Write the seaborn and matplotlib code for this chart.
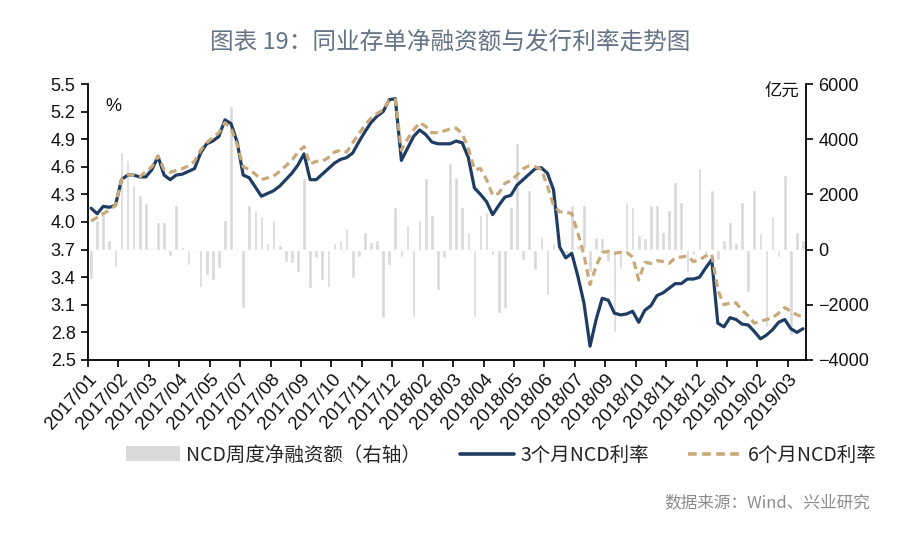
import numpy as np
import pandas as pd
import matplotlib
matplotlib.use("Agg")
import matplotlib.pyplot as plt
import seaborn as sns
from matplotlib.patches import Patch
from matplotlib.lines import Line2D

# ---------------- data (weekly) ----------------
net_financing = [
    -1050, 1090, 1380, 350, -620, 3550, 3250, 2340, 1980, 1680,
    50, 1010, 1010, -250, 1620, 80, -560, -80, -1340, -920,
    -1100, -680, 1090, 5200, 40, -2130, 1620, 1440, 1200, 230,
    1070, 170, -440, -500, -800, 2580, -1400, -320, -1100, -1340,
    230, 350, 770, -1040, -260, 650, 290, 350, -2490, -560,
    1560, -260, 890, -2430, 1070, 2580, 1250, -1460, -320, 3120,
    2640, 1560, 650, -2430, 1250, 1380, -200, -2300, -2130, 1560,
    3880, -380, 2160, -740, 470, -1640, 230, 100, -150, 1620,
    150, 1620, -800, 470, 410, -400, -2970, -680, 1680, 1560,
    530, 410, 1620, 1620, 650, 1440, 2460, 1740, -800, -200,
    2940, -180, 2160, -380, 350, 1010, 230, 1740, -1530, 2160,
    590, -2790, 1200, -260, 2700, -3090, 650, 350,
]

rate_3m = [
    4.15, 4.09, 4.17, 4.16, 4.18, 4.46, 4.51, 4.51, 4.49, 4.49,
    4.57, 4.71, 4.51, 4.46, 4.51, 4.52, 4.55, 4.58, 4.75, 4.85,
    4.88, 4.93, 5.11, 5.07, 4.87, 4.51, 4.48, 4.38, 4.28, 4.31,
    4.34, 4.39, 4.46, 4.53, 4.62, 4.74, 4.46, 4.46, 4.52, 4.58,
    4.64, 4.68, 4.70, 4.75, 4.87, 4.98, 5.08, 5.15, 5.20, 5.33,
    5.34, 4.67, 4.80, 4.93, 5.00, 4.95, 4.87, 4.85, 4.85, 4.85,
    4.88, 4.86, 4.70, 4.37, 4.30, 4.22, 4.08, 4.18, 4.27, 4.29,
    4.40, 4.46, 4.52, 4.58, 4.59, 4.53, 4.35, 3.73, 3.61, 3.66,
    3.41, 3.12, 2.65, 2.94, 3.17, 3.15, 3.01, 2.99, 3.00, 3.03,
    2.91, 3.04, 3.09, 3.20, 3.23, 3.28, 3.33, 3.33, 3.38, 3.38,
    3.40, 3.50, 3.59, 2.90, 2.86, 2.96, 2.94, 2.89, 2.88, 2.81,
    2.73, 2.77, 2.83, 2.91, 2.94, 2.84, 2.80, 2.84,
]

rate_6m = [
    4.01, 4.05, 4.09, 4.13, 4.18, 4.46, 4.51, 4.51, 4.49, 4.55,
    4.60, 4.72, 4.57, 4.54, 4.56, 4.58, 4.61, 4.66, 4.78, 4.86,
    4.92, 4.97, 5.08, 5.02, 4.84, 4.60, 4.57, 4.52, 4.46, 4.48,
    4.50, 4.55, 4.61, 4.67, 4.76, 4.82, 4.63, 4.66, 4.66, 4.70,
    4.76, 4.78, 4.76, 4.86, 4.96, 5.05, 5.13, 5.18, 5.22, 5.32,
    5.33, 4.78, 4.90, 5.00, 5.08, 5.04, 4.97, 4.97, 4.99, 5.01,
    5.02, 4.96, 4.80, 4.57, 4.58, 4.46, 4.29, 4.31, 4.42, 4.45,
    4.51, 4.58, 4.61, 4.60, 4.57, 4.39, 4.18, 4.11, 4.11, 4.09,
    3.88, 3.64, 3.32, 3.52, 3.67, 3.68, 3.66, 3.67, 3.67, 3.62,
    3.37, 3.56, 3.55, 3.58, 3.57, 3.55, 3.61, 3.62, 3.63, 3.57,
    3.59, 3.63, 3.65, 3.26, 3.10, 3.12, 3.12, 3.04, 2.98, 2.90,
    2.92, 2.94, 2.96, 3.01, 3.07, 3.03, 2.99, 2.97,
]

tick_labels = [
    "2017/01", "2017/02", "2017/03", "2017/04", "2017/05", "2017/07",
    "2017/08", "2017/09", "2017/10", "2017/11", "2017/12", "2018/02",
    "2018/03", "2018/04", "2018/05", "2018/06", "2018/07", "2018/09",
    "2018/10", "2018/11", "2018/12", "2019/01", "2019/02", "2019/03",
]

left_ticks = [2.5, 2.8, 3.1, 3.4, 3.7, 4.0, 4.3, 4.6, 4.9, 5.2, 5.5]
right_ticks = [-4000, -2000, 0, 2000, 4000, 6000]

week = list(range(len(net_financing)))
df = pd.DataFrame({"week": week, "net": net_financing,
                   "r3m": rate_3m, "r6m": rate_6m})

# ---------------- style ----------------
sns.set_theme(style="white")
CJK = ["Noto Sans CJK SC", "DejaVu Sans"]
plt.rcParams["font.family"] = ["Liberation Sans", "Noto Sans CJK SC", "DejaVu Sans"]

BAR_C = "#d9d9d9"
C3M = "#1f3d63"
C6M = "#c9a97a"

fig = plt.figure(figsize=(9, 5.33), dpi=100)
ax = fig.add_axes([0.0978, 0.3246, 0.7978, 0.5178])
ax2 = ax.twinx()
ax.set_zorder(ax2.get_zorder() + 1)
ax.patch.set_visible(False)

# bars on right axis
sns.barplot(data=df, x="week", y="net", ax=ax2, color=BAR_C,
            saturation=1, width=0.6, errorbar=None)

# lines on left axis
sns.lineplot(data=df, x="week", y="r3m", ax=ax, color=C3M, linewidth=2.3)
sns.lineplot(data=df, x="week", y="r6m", ax=ax, color=C6M, linewidth=2.3,
             linestyle="--")
ax.lines[-1].set_dashes([2.4, 1.5])

# axes limits / ticks
n = len(week)
ax.set_xlim(-0.5, n - 0.5)
ax.set_xticks([k - 0.5 for k in range(0, 5 * len(tick_labels), 5)])
ax.set_xticklabels(tick_labels, rotation=48, ha="right",
                   rotation_mode="anchor", fontsize=13.5)
ax.set_ylim(2.5, 5.5)
ax.set_yticks(left_ticks)
ax.set_yticklabels([f"{v:.1f}" for v in left_ticks], fontsize=13)
ax2.set_ylim(-4000, 6000)
ax2.set_yticks(right_ticks)
ax2.set_yticklabels([str(v).replace("-", "\u2212") for v in right_ticks], fontsize=13)

for a in (ax, ax2):
    a.set_xlabel("")
    a.set_ylabel("")
    a.grid(False)

ax.spines["top"].set_visible(False)
ax.spines["right"].set_visible(False)
for s in ("left", "bottom"):
    ax.spines[s].set_color("black")
    ax.spines[s].set_linewidth(1.3)
for s in ("top", "left", "bottom"):
    ax2.spines[s].set_visible(False)
ax2.spines["right"].set_color("black")
ax2.spines["right"].set_linewidth(1.3)

ax.tick_params(axis="x", bottom=True, direction="out", length=5, width=1.2,
               color="black", pad=3, labelcolor="#111111")
ax.tick_params(axis="y", left=True, direction="out", length=5, width=1.2,
               color="black", pad=4, labelcolor="#111111")
ax2.tick_params(axis="y", right=True, left=False, direction="out", length=5,
                width=1.2, color="black", pad=4, labelcolor="#111111")

# annotations
ax.text(0.024, 0.917, "%", transform=ax.transAxes, fontsize=13,
        ha="left", va="center", color="#111111")
ax.text(0.991, 0.972, "亿元", transform=ax.transAxes, fontsize=12.5,
        ha="right", va="center", family=CJK, color="#111111")

fig.text(0.5, 0.921, "图表 19：同业存单净融资额与发行利率走势图",
         ha="center", va="center", fontsize=17, color="#657386",
         family=CJK, fontweight="normal")

handles = [
    Patch(facecolor=BAR_C, edgecolor="none"),
    Line2D([0], [0], color=C3M, linewidth=2.6),
    Line2D([0], [0], color=C6M, linewidth=2.6, dashes=[2.4, 1.5]),
]
labels = ["NCD周度净融资额（右轴）", "3个月NCD利率", "6个月NCD利率"]
fig.legend(handles, labels, loc="center", bbox_to_anchor=(0.557, 0.146),
           ncol=3, frameon=False, prop={"family": CJK, "size": 14},
           handlelength=2.8, handleheight=0.8, handletextpad=0.3,
           columnspacing=2.0)

fig.text(0.967, 0.056, "数据来源：Wind、兴业研究", ha="right", va="center",
         fontsize=12, color="#8c8c8c", family=CJK)

fig.savefig("out.png", dpi=100)
